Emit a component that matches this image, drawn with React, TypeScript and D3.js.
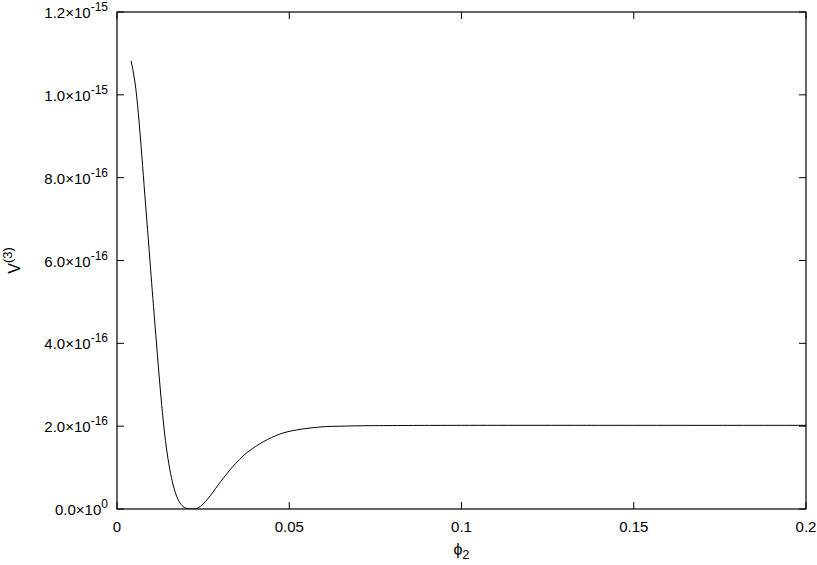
import * as d3 from 'd3';
import React from 'react';

// phi_2 values and V^(3) (in units of 1e-16)
const phiValues = [
  0.0041, 0.0052, 0.0062, 0.0072, 0.0081, 0.0091, 0.0099, 0.0106, 0.0115, 0.0125,
  0.0134, 0.0143, 0.0153, 0.0163, 0.0173, 0.0183, 0.0195, 0.0207, 0.022, 0.0235,
  0.025, 0.0264, 0.0279, 0.0293, 0.0311, 0.0328, 0.0345, 0.0366, 0.0386, 0.0424,
  0.0473, 0.0522, 0.0589, 0.065, 0.071, 0.08, 0.1, 0.15, 0.2,
];
const vValues = [
  10.82, 10.31, 9.55, 8.54, 7.56, 6.5, 5.63, 4.89, 3.96, 2.95,
  2.15, 1.5, 0.97, 0.58, 0.31, 0.145, 0.04, 0.005, 0.0, 0.024,
  0.12, 0.25, 0.41, 0.575, 0.77, 0.945, 1.105, 1.28, 1.415, 1.62,
  1.81, 1.91, 1.98, 2.0, 2.01, 2.015, 2.02, 2.02, 2.02,
];

const xTicks = [0, 0.05, 0.1, 0.15, 0.2];
const xTickLabels = ['0', '0.05', '0.1', '0.15', '0.2'];
const yTicks = [0, 2e-16, 4e-16, 6e-16, 8e-16, 1e-15, 1.2e-15];
const yTickMantissa = ['0.0', '2.0', '4.0', '6.0', '8.0', '1.0', '1.2'];
const yTickExponent = ['0', '-16', '-16', '-16', '-16', '-15', '-15'];

const App = () => {
  const width = 817;
  const height = 565;
  const margin = { top: 12, right: 11, bottom: 56, left: 117 };
  const innerW = width - margin.left - margin.right;
  const innerH = height - margin.top - margin.bottom;

  const xScale = d3.scaleLinear().domain([0, 0.2]).range([0, innerW]);
  const yScale = d3.scaleLinear().domain([0, 1.2e-15]).range([innerH, 0]);

  const data = phiValues.map((p, i) => ({ x: p, y: vValues[i] * 1e-16 }));
  const line = d3
    .line<{ x: number; y: number }>()
    .x((d) => xScale(d.x))
    .y((d) => yScale(d.y))
    .curve(d3.curveNatural);

  const tickLen = 7;
  const font = 'Liberation Sans, Arial, Helvetica, sans-serif';

  return (
    <svg
      width={width}
      height={height}
      style={{ position: 'absolute', left: 0, top: 0, background: '#fff' }}
      fontFamily={font}
    >
      <defs>
        <clipPath id="plot-clip">
          <rect x={0} y={0} width={innerW} height={innerH} />
        </clipPath>
      </defs>
      <g transform={`translate(${margin.left},${margin.top})`}>
        {/* ticks on all four sides */}
        {xTicks.map((t, i) => (
          <g key={'x' + i}>
            <line x1={xScale(t)} x2={xScale(t)} y1={innerH} y2={innerH - tickLen} stroke="#000" />
            <line x1={xScale(t)} x2={xScale(t)} y1={0} y2={tickLen} stroke="#000" />
            <text x={xScale(t)} y={innerH + 23} textAnchor="middle" fontSize={15}>
              {xTickLabels[i]}
            </text>
          </g>
        ))}
        {yTicks.map((t, i) => (
          <g key={'y' + i}>
            <line x1={0} x2={tickLen} y1={yScale(t)} y2={yScale(t)} stroke="#000" />
            <line x1={innerW} x2={innerW - tickLen} y1={yScale(t)} y2={yScale(t)} stroke="#000" />
            <text x={-9} y={yScale(t) + 6} textAnchor="end" fontSize={15}>
              {yTickMantissa[i]}×10
              <tspan dy={-7} fontSize={12}>
                {yTickExponent[i]}
              </tspan>
            </text>
          </g>
        ))}

        <path
          d={line(data) ?? ''}
          fill="none"
          stroke="#000"
          strokeWidth={1}
          clipPath="url(#plot-clip)"
        />

        <rect x={0} y={0} width={innerW} height={innerH} fill="none" stroke="#000" strokeWidth={1.2} />

        {/* axis labels */}
        <text x={innerW / 2} y={innerH + 46} textAnchor="middle" fontSize={16}>
          ϕ<tspan dy={4} fontSize={13}>2</tspan>
        </text>
        <text
          transform={`translate(${-margin.left + 20},${innerH / 2}) rotate(-90)`}
          textAnchor="middle"
          fontSize={16}
        >
          V<tspan dy={-8} fontSize={13}>(3)</tspan>
        </text>
      </g>
    </svg>
  );
};

export default App;
